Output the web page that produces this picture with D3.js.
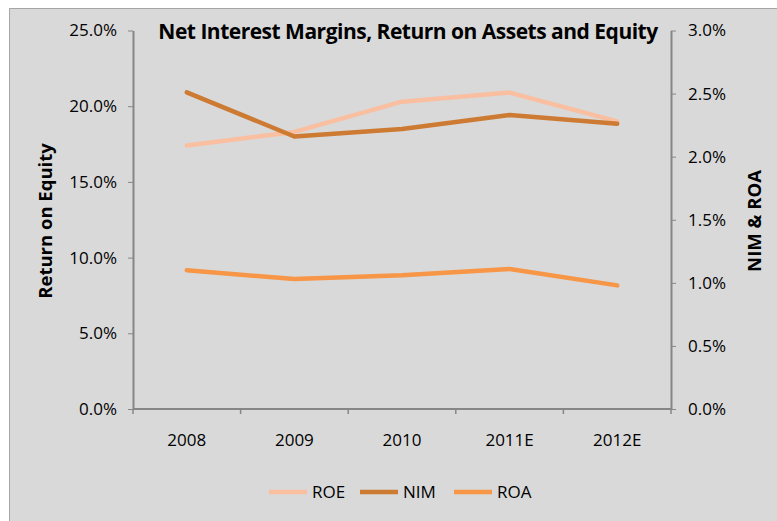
<!DOCTYPE html>
<html>
<head>
<meta charset="utf-8">
<script src="https://cdn.jsdelivr.net/npm/d3@7"></script>
<style>
  body { margin: 0; background: #fff; }
  svg text { fill: #000; }
</style>
</head>
<body>
<svg id="chart" width="777" height="521" font-family="'Open Sans', 'Noto Sans', sans-serif"></svg>
<script>
const categories = ["2008", "2009", "2010", "2011E", "2012E"];
const roe = [17.4, 18.3, 20.3, 20.9, 19.0];   // left axis, %
const nim = [2.51, 2.16, 2.22, 2.33, 2.26];   // right axis, %
const roa = [1.10, 1.03, 1.06, 1.11, 0.98];   // right axis, %
const leftTicks = [0, 5, 10, 15, 20, 25];
const rightTicks = [0, 0.5, 1, 1.5, 2, 2.5, 3];

const seriesList = [
  { name: "ROE", values: roe, axis: "left", color: "#f9bfa0" },
  { name: "NIM", values: nim, axis: "right", color: "#cd7a33" },
  { name: "ROA", values: roa, axis: "right", color: "#f79646" }
];

const FONT = "'Open Sans', 'Noto Sans', sans-serif";
const AXIS_GRAY = "#868686";

const svg = d3.select("#chart");
const width = 777, height = 521;
const margin = { left: 133, right: 106, top: 30.5, bottom: 112 };
const innerWidth = width - margin.left - margin.right;
const innerHeight = height - margin.top - margin.bottom;

// chart area background, border only on the visible left/top edges
svg.append("rect")
  .attr("x", 9).attr("y", 8)
  .attr("width", width - 9).attr("height", height - 8)
  .attr("fill", "#d9d9d9");
svg.append("path")
  .attr("d", `M9.5,${height}V8.5H${width}`)
  .attr("fill", "none")
  .attr("stroke", "#a6a6a6");

const g = svg.append("g")
  .attr("transform", `translate(${margin.left}, ${margin.top})`);

const xScale = d3.scaleBand()
  .domain(categories)
  .range([0, innerWidth]);

const yLeft = d3.scaleLinear().domain([0, 25]).range([innerHeight, 0]);
const yRight = d3.scaleLinear().domain([0, 3]).range([innerHeight, 0]);

const pct = d3.format(".1f");

const styleAxis = function(axisG) {
  axisG.attr("font-size", 17).attr("font-family", FONT);
  axisG.selectAll("line").attr("stroke", AXIS_GRAY);
  axisG.select(".domain").attr("stroke", AXIS_GRAY).attr("stroke-width", 2);
  axisG.selectAll("text").attr("fill", "#000");
};

// x axis with ticks between categories
const xAxisG = g.append("g")
  .attr("transform", `translate(0, ${innerHeight})`);
xAxisG.append("path")
  .attr("class", "domain")
  .attr("fill", "none")
  .attr("d", `M0,0H${innerWidth}`);
xAxisG.selectAll(".xt")
  .data(d3.range(categories.length + 1))
  .enter().append("line")
    .attr("x1", i => i * xScale.bandwidth())
    .attr("x2", i => i * xScale.bandwidth())
    .attr("y1", 0).attr("y2", 5)
    .attr("stroke-width", 1.5);
xAxisG.selectAll(".xl")
  .data(categories)
  .enter().append("text")
    .attr("x", d => xScale(d) + xScale.bandwidth() / 2)
    .attr("y", 37)
    .attr("text-anchor", "middle")
    .text(d => d);
styleAxis(xAxisG);

const yAxisL = d3.axisLeft(yLeft)
  .tickValues(leftTicks)
  .tickSize(5)
  .tickPadding(11)
  .tickSizeOuter(0)
  .tickFormat(d => pct(d) + "%");
const yLG = g.append("g").call(yAxisL);
styleAxis(yLG);

const yAxisR = d3.axisRight(yRight)
  .tickValues(rightTicks)
  .tickSize(5)
  .tickPadding(12)
  .tickSizeOuter(0)
  .tickFormat(d => pct(d) + "%");
const yRG = g.append("g")
  .attr("transform", `translate(${innerWidth}, 0)`)
  .call(yAxisR);
styleAxis(yRG);

// lines
const line = d3.line()
  .x((d, i) => xScale(categories[i]) + xScale.bandwidth() / 2)
  .y(d => d.y);

g.selectAll(".series")
  .data(seriesList)
  .enter().append("path")
    .attr("fill", "none")
    .attr("stroke", d => d.color)
    .attr("stroke-width", 4.5)
    .attr("stroke-linejoin", "round")
    .attr("stroke-linecap", "round")
    .attr("d", s => {
      const sc = s.axis === "left" ? yLeft : yRight;
      return line(s.values.map(v => ({ y: sc(v) })));
    });

// title
svg.append("text")
  .attr("x", 408).attr("y", 39)
  .attr("text-anchor", "middle")
  .attr("font-size", 21)
  .attr("font-weight", "bold")
  .attr("letter-spacing", "-0.5px")
  .text("Net Interest Margins, Return on Assets and Equity");

// axis titles
svg.append("text")
  .attr("transform", "translate(52, 221) rotate(-90)")
  .attr("text-anchor", "middle")
  .attr("font-size", 18.5)
  .attr("font-weight", "bold")
  .text("Return on Equity");

svg.append("text")
  .attr("transform", "translate(761, 221) rotate(-90)")
  .attr("text-anchor", "middle")
  .attr("font-size", 18.5)
  .attr("font-weight", "bold")
  .text("NIM & ROA");

// legend
const legendX = [269, 360, 454];
const items = svg.append("g").selectAll("g")
  .data(seriesList)
  .enter().append("g")
    .attr("transform", (d, i) => `translate(${legendX[i]}, 492)`);
items.append("line")
  .attr("x1", 0).attr("x2", 38)
  .attr("stroke", d => d.color)
  .attr("stroke-width", 4.5);
items.append("text")
  .attr("x", 43).attr("y", 6)
  .attr("font-size", 17)
  .text(d => d.name);
</script>
</body>
</html>
